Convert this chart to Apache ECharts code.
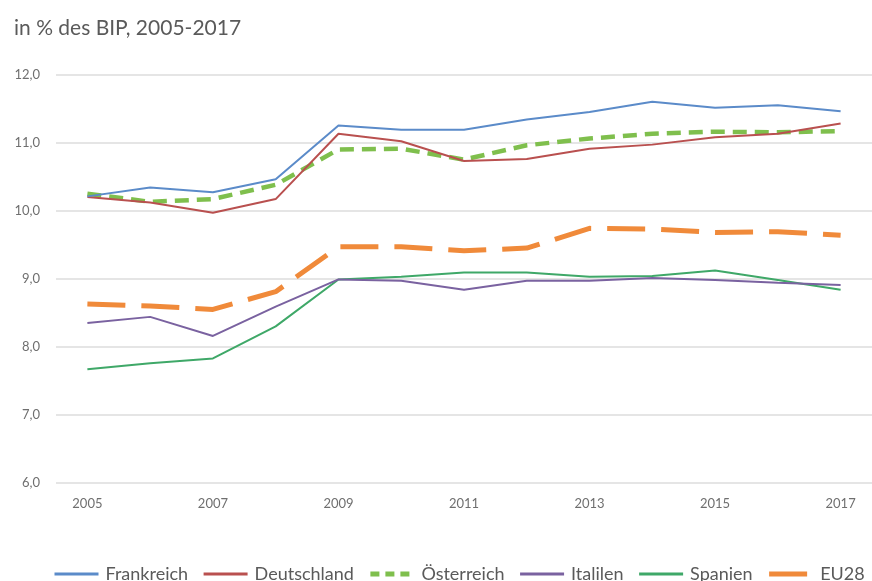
<!DOCTYPE html>
<html>
<head>
<meta charset="utf-8">
<script src="https://cdn.jsdelivr.net/npm/echarts@6/dist/echarts.min.js"></script>
<style>
html,body{margin:0;padding:0;background:#fff;}
#c{width:872px;height:581px;}
</style>
</head>
<body>
<div id="c"></div>
<script>
const years = ['2005','2006','2007','2008','2009','2010','2011','2012','2013','2014','2015','2016','2017'];
const frankreich  = [10.21,10.34,10.27,10.46,11.25,11.19,11.19,11.34,11.45,11.60,11.51,11.55,11.46];
const deutschland = [10.20,10.12,9.97,10.17,11.13,11.02,10.73,10.76,10.91,10.97,11.08,11.13,11.28];
const oesterreich = [10.25,10.13,10.17,10.38,10.90,10.91,10.75,10.96,11.06,11.13,11.16,11.15,11.17];
const italien     = [8.35,8.44,8.16,8.59,8.99,8.97,8.84,8.97,8.97,9.01,8.98,8.94,8.91];
const spanien     = [7.67,7.76,7.83,8.30,8.99,9.03,9.09,9.09,9.03,9.04,9.12,8.98,8.84];
const eu28        = [8.63,8.60,8.55,8.81,9.47,9.47,9.41,9.45,9.74,9.73,9.68,9.69,9.64];
const seriesNames = ['Frankreich','Deutschland','Österreich','Italilen','Spanien','EU28'];
const yTicks = [6,7,8,9,10,11,12];

const chart = echarts.init(document.getElementById('c'));
const font = 'Lato, "Open Sans", sans-serif';
const colors = ['#5b8bc9','#b9504f','#7fbf4d','#7a62a0','#3fa868','#f08a3a'];
function line(name, data, color, width, type, z) {
  return {
    name, type: 'line', data, symbol: 'none', showSymbol: false, z,
    lineStyle: { color, width, type },
    itemStyle: { color },
    emphasis: { disabled: true }
  };
}
chart.setOption({
  animation: false,
  backgroundColor: '#ffffff',
  title: {
    text: 'in % des BIP, 2005-2017',
    left: 9, top: 13,
    textStyle: { fontFamily: font, fontSize: 21, fontWeight: 'normal', color: '#5a5a5a' }
  },
  grid: { left: 56, right: -8, top: 74.5, bottom: 98, containLabel: false },
  xAxis: {
    type: 'category', data: years, boundaryGap: true,
    axisLine: { show: false }, axisTick: { show: false },
    axisLabel: { interval: 1, margin: 14, fontFamily: font, fontSize: 13, color: '#6f6f6f' }
  },
  yAxis: {
    type: 'value', min: yTicks[0], max: yTicks[yTicks.length-1], interval: 1,
    axisLine: { show: false }, axisTick: { show: false },
    splitLine: { lineStyle: { color: '#dcdcdc', width: 1.5 } },
    axisLabel: { margin: 16, fontFamily: font, fontSize: 13, color: '#6f6f6f',
      formatter: v => v.toFixed(1).replace('.', ',') }
  },
  legend: {
    data: [
      { name: seriesNames[0], lineStyle: { width: 3 } },
      { name: seriesNames[1], lineStyle: { width: 3 } },
      { name: seriesNames[2], lineStyle: { width: 5, type: [9, 6] } },
      { name: seriesNames[3], lineStyle: { width: 3 } },
      { name: seriesNames[4], lineStyle: { width: 3 } },
      { name: seriesNames[5], lineStyle: { width: 5 } }
    ],
    left: 48, top: 560,
    itemWidth: 44, itemHeight: 18, itemGap: 14,
    itemStyle: { opacity: 0 },
    textStyle: { fontFamily: font, fontSize: 18, color: '#5a5a5a', padding: [0,0,0,2] }
  },
  series: [
    line(seriesNames[0], frankreich, colors[0], 2, 'solid', 6),
    line(seriesNames[1], deutschland, colors[1], 2, 'solid', 5),
    line(seriesNames[2], oesterreich, colors[2], 4.5, [14, 8], 4),
    line(seriesNames[3], italien, colors[3], 2, 'solid', 3),
    line(seriesNames[4], spanien, colors[4], 2, 'solid', 2),
    line(seriesNames[5], eu28, colors[5], 5, [38, 16], 1)
  ]
});
</script>
</body>
</html>
